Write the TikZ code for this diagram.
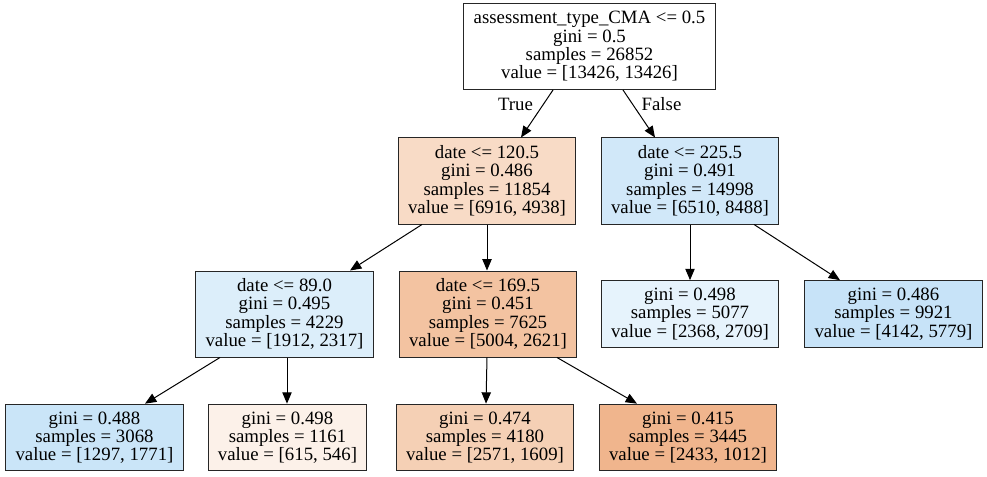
\documentclass[tikz,border=0pt]{standalone}
\usepackage{fontspec}
\setmainfont{Liberation Serif}
\usepackage{xcolor}
\usepackage{tikz}
\usetikzlibrary{arrows.meta,positioning,calc}

\definecolor{splitA}{RGB}{248,219,198}
\definecolor{splitB}{RGB}{209,232,249}
\definecolor{splitC}{RGB}{220,238,250}
\definecolor{splitD}{RGB}{243,195,161}
\definecolor{leafE}{RGB}{230,243,252}
\definecolor{leafF}{RGB}{199,227,248}
\definecolor{leafG}{RGB}{202,229,248}
\definecolor{leafH}{RGB}{252,241,233}
\definecolor{leafI}{RGB}{245,208,181}
\definecolor{leafJ}{RGB}{240,181,141}

\begin{document}
\begin{tikzpicture}[x=0.75pt,y=-0.75pt,
  >={Triangle[length=8.5pt,width=7pt]},
  treenode/.style={draw=black!85,line width=0.75pt,rectangle,align=center,
    inner xsep=7.4pt,inner ysep=0pt,
    font=\fontsize{14.1}{13.7}\selectfont},
  splitnode/.style={treenode,minimum height=64.5pt},
  leafnode/.style={treenode,minimum height=50pt},
  edgelbl/.style={font=\fontsize{14.1}{13.7}\selectfont,inner sep=0pt},
  edge/.style={->,line width=0.75pt}]
\useasboundingbox (0,0) rectangle (987,477);
% root
\node[splitnode,fill=white] (root) at (589.5,46.5)
  {assessment\_type\_CMA <= 0.5\\gini = 0.5\\samples = 26852\\value = [13426, 13426]};
% second level
\node[splitnode,fill=splitA] (nA) at (487,181)
  {date <= 120.5\\gini = 0.486\\samples = 11854\\value = [6916, 4938]};
\node[splitnode,fill=splitB] (nB) at (690,181)
  {date <= 225.5\\gini = 0.491\\samples = 14998\\value = [6510, 8488]};
% third level
\node[splitnode,fill=splitC] (nC) at (284.5,314)
  {date <= 89.0\\gini = 0.495\\samples = 4229\\value = [1912, 2317]};
\node[splitnode,fill=splitD] (nD) at (488,314)
  {date <= 169.5\\gini = 0.451\\samples = 7625\\value = [5004, 2621]};
\node[leafnode,fill=leafE] (nE) at (690,314)
  {gini = 0.498\\samples = 5077\\value = [2368, 2709]};
\node[leafnode,fill=leafF] (nF) at (893.5,314)
  {gini = 0.486\\samples = 9921\\value = [4142, 5779]};
% leaves
\node[leafnode,fill=leafG] (nG) at (94.5,437.5)
  {gini = 0.488\\samples = 3068\\value = [1297, 1771]};
\node[leafnode,fill=leafH] (nH) at (287.5,437.5)
  {gini = 0.498\\samples = 1161\\value = [615, 546]};
\node[leafnode,fill=leafI] (nI) at (485,437.5)
  {gini = 0.474\\samples = 4180\\value = [2571, 1609]};
\node[leafnode,fill=leafJ] (nJ) at (688,437.5)
  {gini = 0.415\\samples = 3445\\value = [2433, 1012]};
% edges
\draw[edge] ($(root.south)+(-36.5,0)$) -- ($(nA.north)+(34,0)$);
\draw[edge] ($(root.south)+(33.5,0)$) -- ($(nB.north)+(-35,0)$);
\node[edgelbl] (lbltrue) at (515.5,104) {True};
\node[edgelbl] (lblfalse) at (661.5,104) {False};
\draw[edge] ($(nA.south)+(-65,0)$) -- ($(nC.north)+(65.5,0)$);
\draw[edge] ($(nA.south)+(0,0)$) -- ($(nD.north)+(-1,0)$);
\draw[edge] (nB.south) -- (nE.north);
\draw[edge] ($(nB.south)+(64,0)$) -- ($(nF.north)+(-53.5,0)$);
\draw[edge] ($(nC.south)+(-64.5,0)$) -- ($(nG.north)+(50.5,0)$);
\draw[edge] ($(nC.south)+(2.5,0)$) -- ($(nH.north)+(-0.5,0)$);
\draw[edge] ($(nD.south)+(-1,0)$) -- ($(nI.north)+(1,0)$);
\draw[edge] ($(nD.south)+(69,0)$) -- ($(nJ.north)+(-51,0)$);
\end{tikzpicture}
\end{document}
